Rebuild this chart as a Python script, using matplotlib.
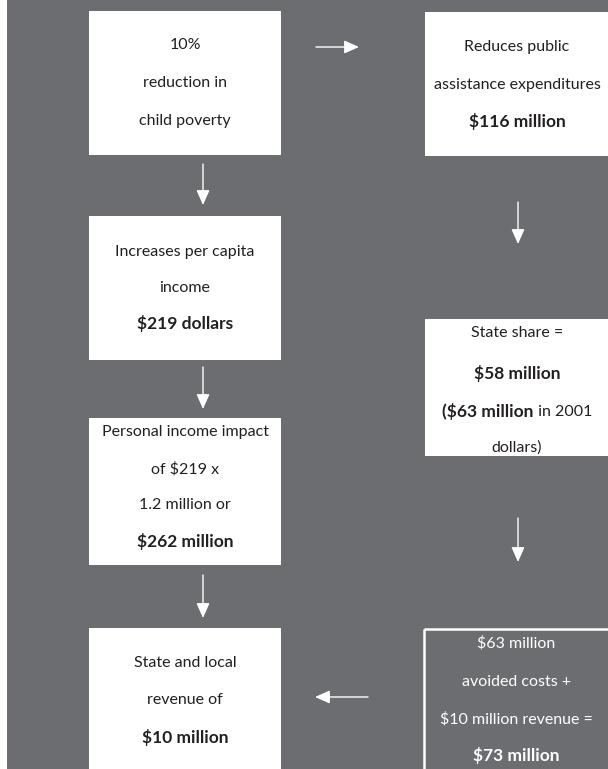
import matplotlib
matplotlib.use("Agg")
import matplotlib.pyplot as plt
from matplotlib.patches import Rectangle

# ---- content ----
box1_lines = ["10%", "reduction in", "child poverty"]
box2_lines = ["Reduces public", "assistance expenditures", "$116 million"]
box3_lines = ["Increases per capita", "income", "$219 dollars"]
box4_lines = ["State share =", "$58 million", ["($63 million", " in 2001"], "dollars)"]
box5_lines = ["Personal income impact", "of $219 x", "1.2 million or", "$262 million"]
box6_lines = ["State and local", "revenue of", "$10 million"]
box7_lines = ["$63 million", "avoided costs +", "$10 million revenue =", "$73 million"]

W, H = 608, 769
BG = "#6c6d71"
INK = "#231f20"
FONT = "Lato"
FS = 11.5
FS_B = 12.5
BOLD = "bold"

fig = plt.figure(figsize=(W / 100, H / 100), dpi=100)
ax = fig.add_axes([0, 0, 1, 1])
ax.set_xlim(0, W)
ax.set_ylim(H, 0)
ax.axis("off")
fig.patch.set_facecolor("white")

ax.add_patch(Rectangle((7, 0), W - 7, H, facecolor=BG, edgecolor="none"))

# box layout: (x0, y0, x1, y1), line centers, filled, bold line indices, text center x
layout = [
    (box1_lines, (89, 11, 281, 155), [45, 83, 121], True, set(), 185),
    (box2_lines, (425, 12, 612, 156), [47, 85, 121], True, {2}, 517),
    (box3_lines, (89, 216, 281, 360), [252, 288, 324], True, {2}, 185),
    (box4_lines, (425, 319, 612, 456), [333, 373, 412, 448], True, {1}, 517),
    (box5_lines, (89, 418, 281, 565), [432, 469, 505, 542], True, {3}, 185),
    (box6_lines, (89, 628, 281, 775), [663, 700, 737], True, {2}, 185),
    (box7_lines, (424, 629, 612, 775), [643, 682, 719, 755], False, {3}, 516),
]

fig.canvas.draw()
renderer = fig.canvas.get_renderer()

for lines, (x0, y0, x1, y1), ys, filled, bold_idx, cx in layout:
    if filled:
        ax.add_patch(Rectangle((x0, y0), x1 - x0, y1 - y0, facecolor="white", edgecolor="none"))
        col = INK
    else:
        ax.add_patch(Rectangle((x0, y0), x1 - x0, y1 - y0, facecolor="none",
                               edgecolor="white", linewidth=1.8))
        col = "white"
    for i, (ln, y) in enumerate(zip(lines, ys)):
        if isinstance(ln, list):
            t1 = ax.text(0, y, ln[0], fontsize=FS_B, family=FONT, fontweight=BOLD,
                         color=col, ha="left", va="center")
            t2 = ax.text(0, y, ln[1], fontsize=FS, family=FONT, color=col,
                         ha="left", va="center")
            w1 = t1.get_window_extent(renderer).width
            w2 = t2.get_window_extent(renderer).width
            start = cx - (w1 + w2) / 2
            t1.set_x(start)
            t2.set_x(start + w1)
        else:
            b = i in bold_idx
            ax.text(cx, y, ln, fontsize=FS_B if b else FS, family=FONT,
                    fontweight=BOLD if b else "normal",
                    color=col, ha="center", va="center")

arrows = [
    ((316, 47), (359, 47)),
    ((203, 164), (203, 205)),
    ((518, 202), (518, 244)),
    ((203, 367), (203, 409)),
    ((518, 518), (518, 562)),
    ((203, 575), (203, 618)),
    ((368, 697), (315, 697)),
]
for (xa, ya), (xb, yb) in arrows:
    ax.annotate("", xy=(xb, yb), xytext=(xa, ya),
                arrowprops=dict(arrowstyle="-|>,head_length=0.9,head_width=0.4",
                                color="white", lw=1.0, shrinkA=0, shrinkB=0))

fig.savefig("out.png", dpi=100, facecolor="white")
